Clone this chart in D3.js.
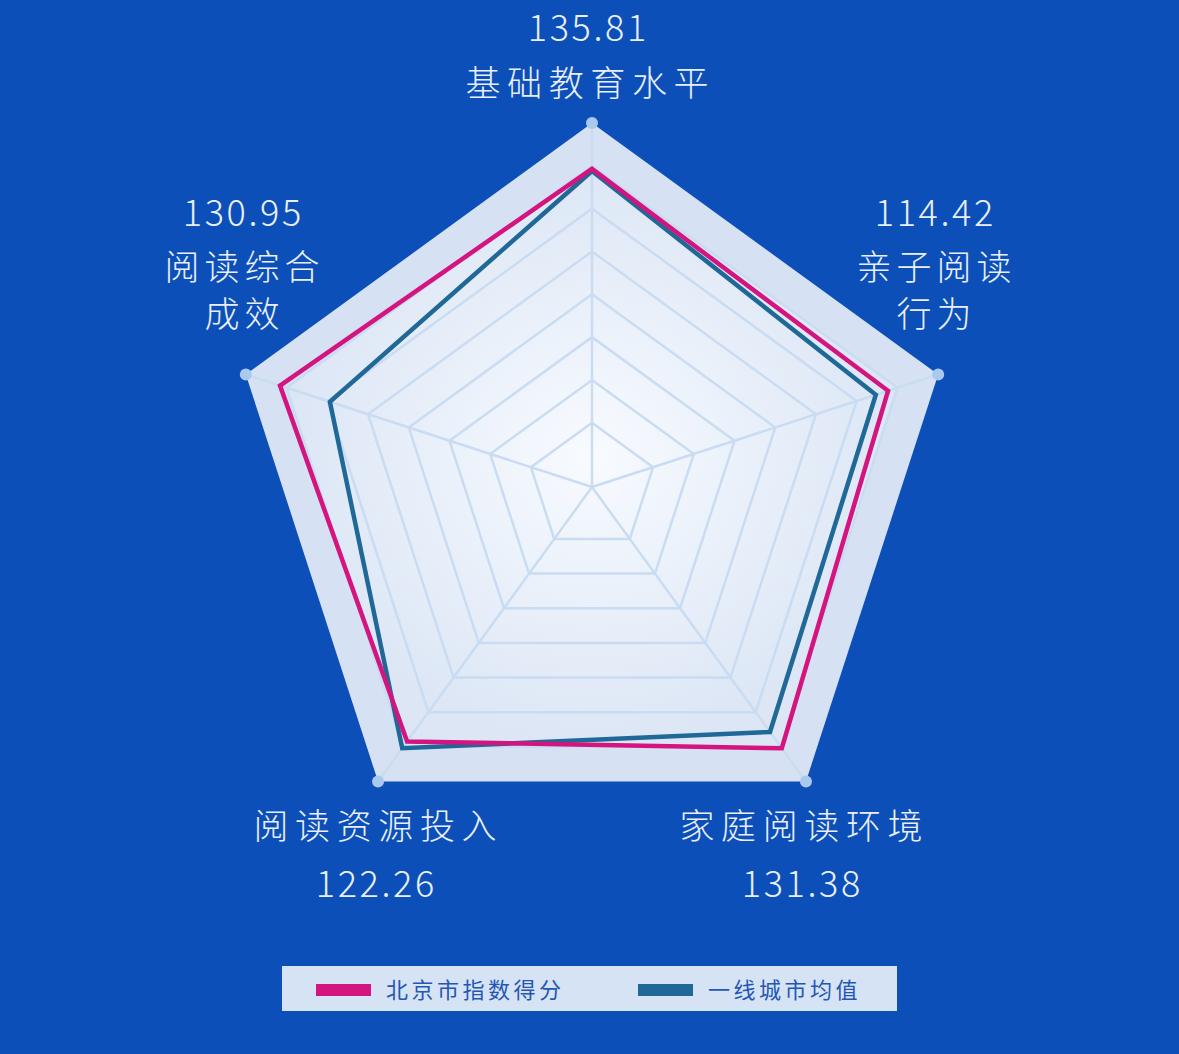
<!DOCTYPE html>
<html>
<head>
<meta charset="utf-8">
<script src="https://cdn.jsdelivr.net/npm/d3@7"></script>
<style>
  body { margin: 0; background: #0c4fb8; }
  svg { display: block; }
  .lbl { fill: #e9eff9; font-family: "Noto Sans CJK SC", "Noto Sans", sans-serif; font-weight: 300; font-size: 36px; }
  .num { letter-spacing: 2.6px; }
  .cn { font-size: 35px; letter-spacing: 5px; }
  .cn.wide { letter-spacing: 6.6px; }
  .legendText { fill: #2457b4; font-family: "Noto Sans CJK SC", sans-serif; font-size: 22px; letter-spacing: 3.5px; }
</style>
</head>
<body>
<div id="radar"></div>
<script>
var svgWidth = 1179;
var svgHeight = 1054;

// indicators, clockwise from the top
var indicators = ["基础教育水平", "亲子阅读行为", "家庭阅读环境", "阅读资源投入", "阅读综合成效"];
var indicatorMax = [155.4, 133.8, 148.1, 141.5, 145.3];

var seriesNames = ["北京市指数得分", "一线城市均值"];
var beijing = [135.81, 114.42, 131.38, 122.26, 130.95];
var firstTier = [134.9, 109.7, 123.2, 125.5, 110.0];
var seriesColors = ["#d4147f", "#1f6897"];

var cx = 592, cy = 487, R = 364;

var svg = d3.select("#radar")
    .append("svg")
    .attr("width", svgWidth)
    .attr("height", svgHeight);

var defs = svg.append("defs");
var grad = defs.append("radialGradient")
    .attr("id", "innerGrad")
    .attr("cx", "50%").attr("cy", "50%").attr("r", "50%");
grad.append("stop").attr("offset", "0%").attr("stop-color", "#f8fbff");
grad.append("stop").attr("offset", "100%").attr("stop-color", "#dce6f5");

var chartGroup = svg.append("g")
    .attr("transform", `translate(${cx}, ${cy})`);

var angle = d3.scaleLinear().domain([0, indicators.length]).range([0, 2 * Math.PI]);
var scales = indicatorMax.map(m => d3.scaleLinear().domain([0, m]).range([0, R]));

var ringRadial = d3.lineRadial()
    .angle((d, i) => angle(i))
    .radius(d => d)
    .curve(d3.curveLinearClosed);

// rings: 8 levels, the first one is 1.5 steps out
var rings = d3.range(1.5, 9, 1).map(k => R * k / 8.5);

// outer band
chartGroup.append("path")
    .attr("d", ringRadial(indicators.map(() => R)))
    .attr("fill", "#d6e2f3");

// inner gradient area
chartGroup.append("path")
    .attr("d", ringRadial(indicators.map(() => rings[rings.length - 2])))
    .attr("fill", "url(#innerGrad)");

// ring lines
chartGroup.selectAll(".ring")
    .data(rings.slice(0, -1))
    .enter()
    .append("path")
    .attr("d", r => ringRadial(indicators.map(() => r)))
    .attr("fill", "none")
    .attr("stroke", "#c9dcf2")
    .attr("stroke-width", 2.5);

// spokes
chartGroup.selectAll(".spoke")
    .data(indicators)
    .enter()
    .append("line")
    .attr("x1", 0).attr("y1", 0)
    .attr("x2", (d, i) => R * Math.sin(angle(i)))
    .attr("y2", (d, i) => -R * Math.cos(angle(i)))
    .attr("stroke", "#c9dcf2")
    .attr("stroke-width", 2.5);

// series lines
var seriesLine = d3.lineRadial()
    .angle((d, i) => angle(i))
    .radius((d, i) => scales[i](d))
    .curve(d3.curveLinearClosed);

[firstTier, beijing].forEach((s, j) => {
    chartGroup.append("path")
        .attr("d", seriesLine(s))
        .attr("fill", "none")
        .attr("stroke", seriesColors[1 - j])
        .attr("stroke-width", 4.5)
        .attr("stroke-linejoin", "miter");
});

// vertex dots
chartGroup.selectAll(".dot")
    .data(indicators)
    .enter()
    .append("circle")
    .attr("cx", (d, i) => R * Math.sin(angle(i)))
    .attr("cy", (d, i) => -R * Math.cos(angle(i)))
    .attr("r", 6)
    .attr("fill", "#a9c9ee");

// label placement
var labelPos = [
    { x: 587, num: 41, name: [96], lines: ["基础教育水平"] },
    { x: 934, num: 226, name: [280, 327], lines: ["亲子阅读", "行为"] },
    { x: 801, num: 897, name: [839], lines: ["家庭阅读环境"] },
    { x: 375, num: 897, name: [839], lines: ["阅读资源投入"] },
    { x: 242, num: 226, name: [280, 327], lines: ["阅读综合", "成效"] }
];

var labelGroup = svg.append("g");
labelPos.forEach((p, i) => {
    labelGroup.append("text")
        .attr("class", "lbl num")
        .attr("x", p.x + 1.3)
        .attr("y", p.num)
        .attr("text-anchor", "middle")
        .text(beijing[i].toFixed(2));
    p.lines.forEach((t, k) => {
        var wide = t.length > 4;
        labelGroup.append("text")
            .attr("class", wide ? "lbl cn wide" : "lbl cn")
            .attr("x", p.x + (wide ? 3.3 : 2.5))
            .attr("y", p.name[k])
            .attr("text-anchor", "middle")
            .text(t);
    });
});

// legend
var legend = svg.append("g");
legend.append("rect")
    .attr("x", 282).attr("y", 966)
    .attr("width", 615).attr("height", 45)
    .attr("fill", "#d6e3f5");

var legendX = [316, 638];
seriesNames.forEach((name, i) => {
    legend.append("rect")
        .attr("x", legendX[i]).attr("y", 984)
        .attr("width", 55).attr("height", 12)
        .attr("fill", seriesColors[i]);
    legend.append("text")
        .attr("class", "legendText")
        .attr("x", legendX[i] + 70)
        .attr("y", 998)
        .text(name);
});
</script>
</body>
</html>
